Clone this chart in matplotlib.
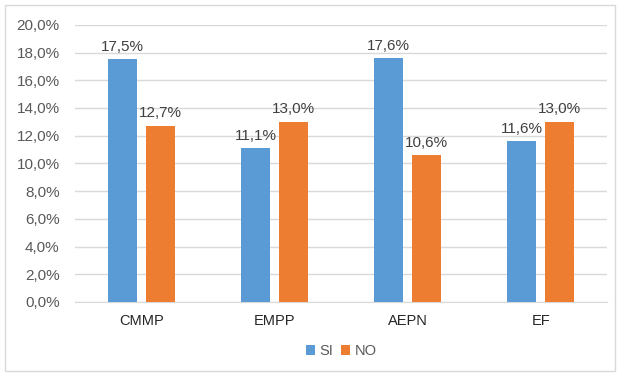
import numpy as np
import matplotlib.pyplot as plt
from matplotlib.patches import Rectangle

plt.rcParams['font.family'] = ['Liberation Sans', 'DejaVu Sans']

categorias = ['CMMP', 'EMPP', 'AEPN', 'EF']
si = [17.5, 11.1, 17.6, 11.6]
no = [12.7, 13.0, 10.6, 13.0]

azul = '#5B9BD5'
naranja = '#ED7D31'
gris = '#595959'

fig = plt.figure(figsize=(6.19, 3.76), dpi=100)
ax = fig.add_axes([0.121, 0.197, 0.860, 0.737])

x = np.arange(len(categorias))
w = 0.22
sep = 0.065
b1 = ax.bar(x - (w + sep) / 2, si, w, color=azul, label='SI', zorder=3)
b2 = ax.bar(x + (w + sep) / 2, no, w, color=naranja, label='NO', zorder=3)

for barras, vals in ((b1, si), (b2, no)):
    for r, v in zip(barras, vals):
        ax.annotate(f'{v:.1f}%'.replace('.', ','),
                    (r.get_x() + r.get_width() / 2, v),
                    xytext=(0, 4), textcoords='offset points',
                    ha='center', va='bottom', fontsize=11, color='#404040')

ax.set_ylim(0, 20)
ax.set_xlim(-0.5, len(categorias) - 0.5)
ticks = np.arange(0, 21, 2)
ax.set_yticks(ticks)
ax.set_yticklabels([f'{t:.1f}%'.replace('.', ',') for t in ticks],
                   fontsize=11, color=gris)
ax.set_xticks(x)
ax.set_xticklabels(categorias, fontsize=10.5, color='#262626')
ax.tick_params(length=0)
ax.tick_params(axis='y', pad=11)
ax.tick_params(axis='x', pad=9)
ax.grid(axis='y', color='#D9D9D9', linewidth=1, zorder=0)
for s in ['top', 'right', 'left']:
    ax.spines[s].set_visible(False)
ax.spines['bottom'].set_color('#D9D9D9')

ax.legend(loc='upper center', bbox_to_anchor=(0.5, -0.105), ncol=2,
          frameon=False, fontsize=10.5, handlelength=0.65, handleheight=0.65,
          handletextpad=0.3, columnspacing=0.5, labelcolor=gris)

fig.patches.append(Rectangle((0.008, 0.013), 0.985, 0.975, transform=fig.transFigure,
                             fill=False, edgecolor='#D9D9D9', linewidth=1))

fig.savefig('out.png', dpi=100)
